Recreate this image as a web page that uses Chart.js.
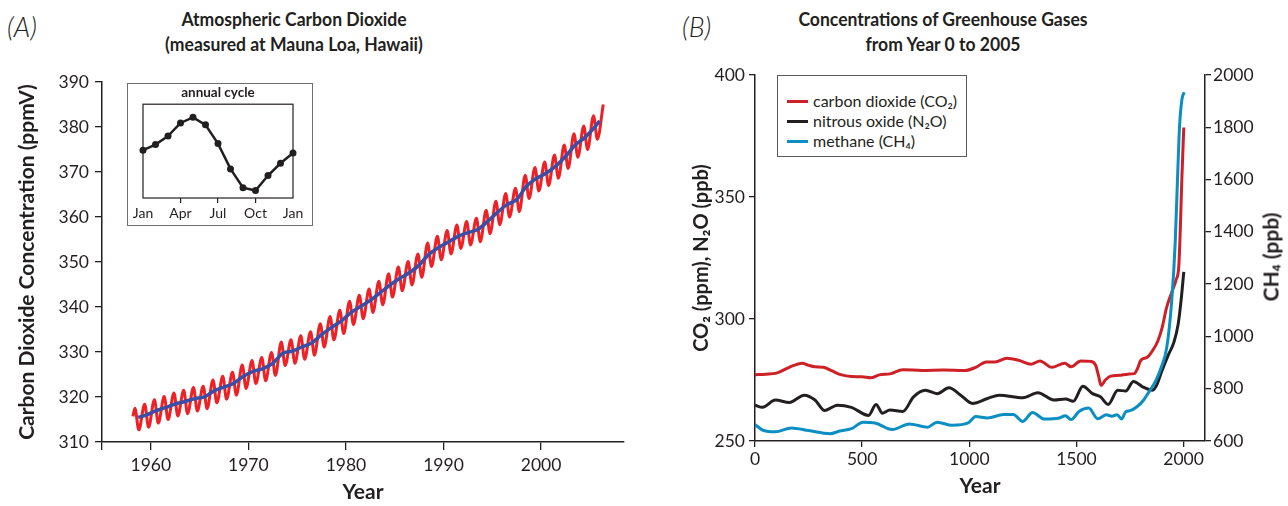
<!DOCTYPE html>
<html><head><meta charset="utf-8">
<script src="https://cdn.jsdelivr.net/npm/chart.js@4.4.0/dist/chart.umd.min.js"></script>
<style>
html,body{margin:0;padding:0;background:#fff;}
body{width:1288px;height:506px;position:relative;overflow:hidden;font-family:Lato,'Open Sans',sans-serif;color:#231f20;}
canvas{position:absolute;top:0;}
#cA{left:0;}
#cB{left:644px;}
.ttl{position:absolute;font-weight:bold;font-size:19.5px;text-align:center;line-height:25px;white-space:nowrap;width:360px;transform:scaleX(0.9);}
.plab{position:absolute;font-style:italic;font-size:27px;font-weight:300;line-height:30px;}
#inset{position:absolute;left:127px;top:83px;width:184px;height:141px;border:1px solid #6d6e71;background:#fff;}
#inset canvas{left:0;top:0;}
#legB{position:absolute;left:777px;top:75px;width:188px;height:80px;border:1.5px solid #58595b;background:#fff;font-size:16px;}
.li{position:absolute;left:9px;height:20px;line-height:20px;white-space:nowrap;}
.sw{display:inline-block;width:21px;height:3px;vertical-align:middle;margin-right:5px;position:relative;top:-1px;}
#ch4t{position:absolute;left:1270px;top:257px;transform:translate(-50%,-50%) rotate(-90deg);font-weight:bold;font-size:21px;white-space:nowrap;}
</style>
</head><body>
<div class="plab" style="left:7px;top:12px;">(A)</div>
<div class="ttl" style="left:114px;top:6px;">Atmospheric Carbon Dioxide<br>(measured at Mauna Loa, Hawaii)</div>
<div class="plab" style="left:682px;top:12px;">(B)</div>
<div class="ttl" style="left:763px;top:6px;">Concentrations of Greenhouse Gases<br>from Year 0 to 2005</div>
<canvas id="cA" width="644" height="506"></canvas>
<canvas id="cB" width="644" height="506"></canvas>
<div id="inset"><canvas id="cI" width="184" height="141"></canvas></div>
<div id="legB">
  <div class="li" style="top:15px;"><span class="sw" style="background:#cd2027"></span>carbon dioxide (CO₂)</div>
  <div class="li" style="top:35px;"><span class="sw" style="background:#231f20"></span>nitrous oxide (N₂O)</div>
  <div class="li" style="top:55px;"><span class="sw" style="background:#0b8ec2"></span>methane (CH₄)</div>
</div>
<div id="ch4t">CH₄ (ppb)</div>
<script>
// ---------- Panel A: Mauna Loa CO2 ----------
const yearTicksA = [1960, 1970, 1980, 1990, 2000];
const trendYears = [1958.7, 1959.5, 1960.5, 1961.5, 1962.5, 1963.5, 1964.5, 1965.5, 1966.5, 1967.5, 1968.5, 1969.5,
  1970.5, 1971.5, 1972.5, 1973.5, 1974.5, 1975.5, 1976.5, 1977.5, 1978.5, 1979.5, 1980.5, 1981.5, 1982.5, 1983.5,
  1984.5, 1985.5, 1986.5, 1987.5, 1988.5, 1989.5, 1990.5, 1991.5, 1992.5, 1993.5, 1994.5, 1995.5, 1996.5, 1997.5,
  1998.5, 1999.5, 2000.5, 2001.5, 2002.5, 2003.5, 2004.5, 2005.5, 2006.0];
const trendPpm = [315.5, 315.98, 316.91, 317.64, 318.45, 318.99, 319.62, 320.04, 321.37, 322.18, 323.05, 324.62,
  325.68, 326.32, 327.46, 329.68, 330.19, 331.12, 332.03, 333.84, 335.41, 336.84, 338.76, 340.12, 341.48, 343.15,
  344.87, 346.35, 347.61, 349.31, 351.69, 353.20, 354.45, 355.70, 356.54, 357.21, 358.96, 360.97, 362.74, 363.88,
  366.84, 368.54, 369.71, 371.32, 373.45, 375.98, 377.70, 379.98, 381.4];
const firstMonthYear = 1958.17, firstMonthPpm = 315.7;
const cycleYears = [1958, 1959, 1960, 1961, 1962, 1963, 1964, 1965, 1966, 1967, 1968, 1969, 1970, 1971, 1972, 1973,
  1974, 1975, 1976, 1977, 1978, 1979, 1980, 1981, 1982, 1983, 1984, 1985, 1986, 1987, 1988, 1989, 1990, 1991, 1992,
  1993, 1994, 1995, 1996, 1997, 1998, 1999, 2000, 2001, 2002, 2003, 2004, 2005, 2006];
const mayPeakPpm = [317.5, 318.4, 319.4, 320.1, 320.9, 321.5, 322.1, 322.4, 323.8, 324.6, 325.5, 327.1, 328.1, 328.8,
  329.9, 332.2, 332.7, 333.6, 334.5, 336.3, 337.9, 339.3, 341.3, 342.6, 344.0, 345.7, 347.4, 348.9, 350.1, 351.8,
  354.2, 355.7, 357.0, 358.2, 359.0, 359.7, 361.5, 363.5, 365.2, 366.4, 369.3, 371.0, 372.2, 373.8, 376.0, 378.5,
  380.2, 382.5, 385.0];
const octLowPpm = [312.7, 313.3, 314.2, 315.0, 315.8, 316.3, 316.9, 317.4, 318.7, 319.5, 320.4, 321.9, 323.0, 323.6,
  324.8, 327.0, 327.5, 328.4, 329.3, 331.1, 332.7, 334.1, 336.1, 337.4, 338.8, 340.5, 342.2, 343.6, 344.9, 346.6,
  349.0, 350.5, 351.8, 353.0, 353.8, 354.5, 356.3, 358.3, 360.0, 361.2, 364.1, 365.8, 367.0, 368.6, 370.8, 373.3,
  375.0, 377.3];
const MAY = 0.375, OCT = 0.77; // position of the seasonal max / min within each year

// ---------- Inset: annual cycle ----------
const insetMonth = [0,1,2,3,4,5,6,7,8,9,10,11,12];
const insetCycle = [0.1, 0.7, 1.6, 3.0, 3.6, 2.8, 0.8, -1.9, -3.9, -4.2, -2.6, -1.3, -0.2];
const insetTickMonths = [0, 3, 6, 9, 12];
const insetTickLabels = ['Jan', 'Apr', 'Jul', 'Oct', 'Jan'];

// ---------- Panel B: year 0 - 2005 ----------
const yearTicksB = [0, 500, 1000, 1500, 2000];
const co2Years = [0, 50, 100, 160, 220, 250, 280, 320, 360, 400, 450, 500, 540, 580, 630, 690, 780, 880, 980, 1030,
  1080, 1120, 1175, 1230, 1290, 1330, 1385, 1445, 1475, 1520, 1570, 1590, 1603, 1615, 1635, 1660, 1700, 1740, 1770,
  1785, 1800, 1830, 1855, 1880, 1900, 1920, 1945, 1965, 1978, 1985, 1992, 2001];
const co2Ppm = [277.2, 277.4, 277.8, 280.2, 281.9, 281.0, 280.4, 280.2, 278.7, 277.2, 276.4, 276.3, 275.9, 277.1,
  277.5, 279.2, 278.9, 279.1, 278.9, 280.2, 282.4, 282.4, 283.9, 283.1, 281.5, 282.8, 280.2, 281.9, 280.4, 282.8,
  282.6, 281.0, 276.8, 272.8, 275.0, 276.6, 276.9, 277.4, 277.6, 279.7, 283.0, 284.3, 287.0, 291.0, 296.5, 304.5,
  311.0, 316.0, 322.0, 337.5, 357.5, 378.5];
const n2oYears = [0, 35, 95, 160, 230, 280, 325, 385, 450, 530, 565, 595, 630, 690, 740, 795, 850, 905, 960, 1015,
  1085, 1140, 1250, 1320, 1395, 1450, 1485, 1530, 1575, 1612, 1648, 1693, 1730, 1766, 1811, 1855, 1875, 1900, 1930,
  1955, 1975, 1990, 2001];
const n2oPpb = [264.7, 263.8, 266.8, 265.8, 268.8, 266.8, 262.5, 264.7, 263.8, 260.5, 265.0, 261.4, 262.7, 262.1,
  268.1, 270.8, 269.4, 271.8, 268.8, 265.4, 267.4, 268.8, 267.7, 269.8, 266.8, 267.2, 266.3, 272.4, 269.4, 268.1,
  265.0, 270.8, 270.5, 274.4, 272.1, 270.8, 273.0, 279.0, 285.5, 290.5, 298.0, 309.0, 319.3];
const ch4Years = [0, 40, 95, 170, 250, 350, 395, 450, 505, 560, 640, 720, 805, 850, 920, 995, 1030, 1085, 1160, 1205,
  1250, 1295, 1350, 1420, 1448, 1475, 1512, 1557, 1600, 1640, 1665, 1690, 1711, 1730, 1750, 1784, 1813, 1840, 1870,
  1895, 1922, 1945, 1961, 1972, 1981, 1992, 2003];
const ch4Ppb = [663, 640, 635, 650, 640, 628, 638, 647, 672, 669, 644, 665, 653, 672, 660, 669, 694, 688, 701, 701,
  675, 709, 684, 688, 697, 682, 713, 726, 685, 700, 695, 700, 684, 712, 716, 732, 756, 790, 830, 880, 960, 1140, 1360,
  1610, 1800, 1905, 1934];

// ---------- build ----------
const INK = '#231f20';
Chart.defaults.font.family = "Lato, 'Open Sans', sans-serif";
Chart.defaults.color = INK;
const pairs = (xs, ys) => xs.map((x, i) => ({x: x, y: ys[i]}));

const seasonal = [{x: firstMonthYear, y: firstMonthPpm}];
cycleYears.forEach((yr, i) => {
  seasonal.push({x: yr + MAY, y: mayPeakPpm[i]});
  if (i < octLowPpm.length) seasonal.push({x: yr + OCT, y: octLowPpm[i]});
});

const axisGrid = (len) => ({display: true, drawOnChartArea: false, drawTicks: true, tickLength: len, color: INK, lineWidth: 1.3});
const axisBorder = {display: true, color: INK, width: 1.5};
const axisTitleFont = {size: 21, weight: 'bold'};

new Chart(document.getElementById('cA'), {
  type: 'line',
  data: {datasets: [
    {label: 'trend', data: pairs(trendYears, trendPpm), borderColor: '#3b4ea6', borderWidth: 3.5, pointRadius: 0, cubicInterpolationMode: 'monotone'},
    {label: 'monthly', data: seasonal, borderColor: '#ec2227', borderWidth: 3, pointRadius: 0, cubicInterpolationMode: 'monotone'}
  ]},
  options: {
    responsive: false, animation: false, events: [],
    layout: {padding: {left: 0, right: 20, top: 82, bottom: 0}},
    plugins: {legend: {display: false}, tooltip: {enabled: false}},
    scales: {
      x: {type: 'linear', min: 1955, max: 2008.5,
        afterBuildTicks: s => { s.ticks = [s.min].concat(yearTicksA).map(v => ({value: v})); },
        afterFit: s => { s.height = 64; },
        ticks: {callback: v => (yearTicksA.includes(v) ? String(v) : ''), font: {size: 17.5}, padding: 5, maxRotation: 0, autoSkip: false},
        grid: axisGrid(8), border: axisBorder,
        title: {display: true, text: 'Year', font: axisTitleFont, padding: {top: 0, bottom: 1}}},
      y: {min: 310, max: 390,
        afterFit: s => { s.width = 102; },
        ticks: {stepSize: 10, font: {size: 17.5}, padding: 6},
        grid: axisGrid(7), border: axisBorder,
        title: {display: true, text: 'Carbon Dioxide Concentration (ppmV)', font: axisTitleFont, padding: {top: 15, bottom: 0}}}
    }
  }
});

const frame = {id: 'frame', beforeDatasetsDraw(c) {
  const a = c.chartArea, g = c.ctx; g.save(); g.strokeStyle = INK; g.lineWidth = 1.2;
  g.strokeRect(a.left, a.top, a.right - a.left, a.bottom - a.top); g.restore(); }};

new Chart(document.getElementById('cI'), {
  type: 'line',
  data: {datasets: [{label: 'annual cycle', data: pairs(insetMonth, insetCycle), borderColor: INK, backgroundColor: INK,
    borderWidth: 2.5, pointRadius: 3.5, pointBorderWidth: 0, tension: 0, clip: false}]},
  options: {
    responsive: false, animation: false, events: [],
    layout: {padding: {left: 15, right: 19, top: 0, bottom: 0}},
    plugins: {legend: {display: false}, tooltip: {enabled: false},
      title: {display: true, text: 'annual cycle', font: {size: 13.5, weight: 'bold'}, color: INK, padding: {top: 1, bottom: 3}}},
    scales: {
      x: {type: 'linear', min: 0, max: 12,
        afterBuildTicks: s => { s.ticks = insetTickMonths.map(v => ({value: v})); },
        afterFit: s => { s.height = 27; },
        ticks: {callback: (v, i) => insetTickLabels[i], font: {size: 14}, padding: 2, maxRotation: 0, autoSkip: false},
        grid: {display: true, drawOnChartArea: false, tickLength: 5, lineWidth: 1.2,
          tickColor: ctx => (ctx.tick && (ctx.tick.value === 0 || ctx.tick.value === 12) ? 'rgba(0,0,0,0)' : INK)},
        border: {display: false}},
      y: {display: false, min: -5, max: 5}
    }
  },
  plugins: [frame]
});

new Chart(document.getElementById('cB'), {
  type: 'line',
  data: {datasets: [
    {label: 'methane (CH₄)', data: pairs(ch4Years, ch4Ppb), yAxisID: 'y2', borderColor: '#0b8ec2', borderWidth: 3, pointRadius: 0, cubicInterpolationMode: 'monotone'},
    {label: 'nitrous oxide (N₂O)', data: pairs(n2oYears, n2oPpb), yAxisID: 'y', borderColor: INK, borderWidth: 3, pointRadius: 0, cubicInterpolationMode: 'monotone'},
    {label: 'carbon dioxide (CO₂)', data: pairs(co2Years, co2Ppm), yAxisID: 'y', borderColor: '#cd2027', borderWidth: 3, pointRadius: 0, cubicInterpolationMode: 'monotone'}
  ]},
  options: {
    responsive: false, animation: false, events: [],
    layout: {padding: {left: 0, right: 0, top: 75, bottom: 0}},
    plugins: {legend: {display: false}, tooltip: {enabled: false}},
    scales: {
      x: {type: 'linear', min: 0, max: 2100,
        afterBuildTicks: s => { s.ticks = yearTicksB.map(v => ({value: v})); },
        afterFit: s => { s.height = 65; },
        ticks: {callback: v => String(v), font: {size: 17.5}, padding: 2, maxRotation: 0, autoSkip: false},
        grid: axisGrid(6), border: axisBorder,
        title: {display: true, text: 'Year', font: axisTitleFont, padding: {top: 0, bottom: 7}}},
      y: {position: 'left', min: 250, max: 400,
        afterFit: s => { s.width = 111; },
        ticks: {stepSize: 50, font: {size: 17.5}, padding: 4},
        grid: axisGrid(6), border: axisBorder,
        title: {display: true, text: 'CO₂ (ppm), N₂O (ppb)', font: {size: 20, weight: 'bold'}, padding: {top: 46, bottom: 0}}},
      y2: {position: 'right', min: 600, max: 2000,
        afterFit: s => { s.width = 83; },
        ticks: {stepSize: 200, font: {size: 17.5}, padding: 2, callback: v => String(v)},
        grid: axisGrid(6), border: axisBorder}
    }
  }
});
</script>
</body></html>
